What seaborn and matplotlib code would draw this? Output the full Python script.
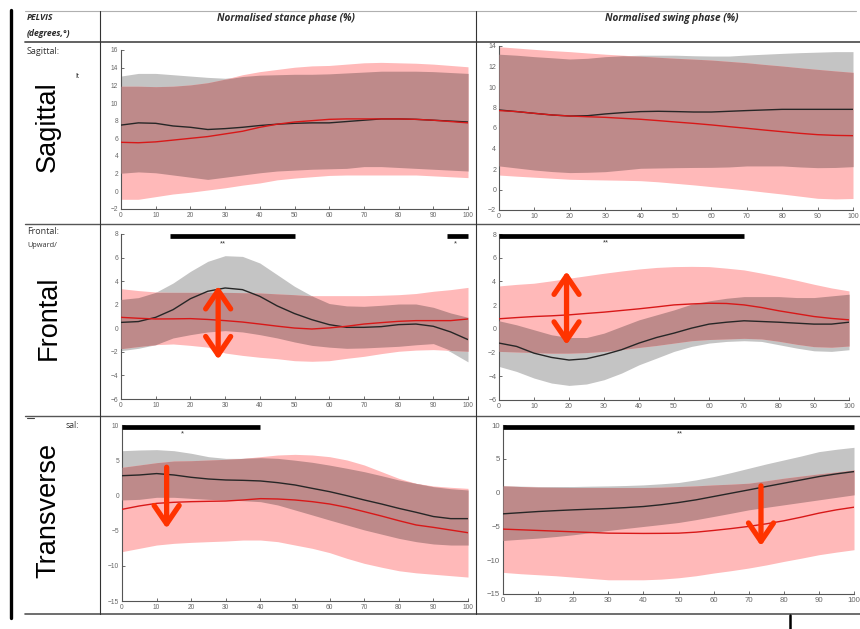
import numpy as np
import pandas as pd
import matplotlib
matplotlib.use("Agg")
import matplotlib.pyplot as plt
from matplotlib.lines import Line2D
import seaborn as sns

# ---------------------------------------------------------------------------
# Pelvis kinematics (degrees) over normalised stance / swing phase (%)
# ctrl = healthy reference group (grey), pat = patient group (red)
# each group: mean curve plus lower / upper limit of the +/-1 SD band
# ---------------------------------------------------------------------------
pct = [0, 5, 10, 15, 20, 25, 30, 35, 40, 45, 50, 55, 60, 65, 70, 75, 80, 85, 90, 95, 100]
x_ticks = [0, 10, 20, 30, 40, 50, 60, 70, 80, 90, 100]

# Sagittal - stance
sag_st_ctrl_mean = [7.5, 7.75, 7.7, 7.4, 7.25, 7.0, 7.1, 7.25, 7.45, 7.6, 7.7, 7.75, 7.75, 7.9, 8.05, 8.2, 8.2, 8.15, 8.05, 7.95, 7.85]
sag_st_ctrl_hi = [13.05, 13.35, 13.35, 13.2, 13.05, 12.9, 12.8, 13.0, 13.15, 13.2, 13.25, 13.25, 13.3, 13.4, 13.5, 13.6, 13.6, 13.6, 13.55, 13.45, 13.35]
sag_st_ctrl_lo = [2.05, 2.2, 2.1, 1.85, 1.6, 1.35, 1.6, 1.85, 2.1, 2.3, 2.4, 2.5, 2.55, 2.6, 2.8, 2.8, 2.7, 2.6, 2.5, 2.4, 2.3]
sag_st_pat_mean = [5.55, 5.5, 5.6, 5.8, 6.0, 6.2, 6.5, 6.8, 7.25, 7.6, 7.85, 8.0, 8.15, 8.2, 8.2, 8.2, 8.2, 8.15, 8.05, 7.9, 7.75]
sag_st_pat_hi = [11.9, 11.9, 11.85, 11.9, 12.05, 12.3, 12.7, 13.2, 13.55, 13.8, 14.05, 14.2, 14.25, 14.4, 14.55, 14.6, 14.55, 14.5, 14.4, 14.25, 14.1]
sag_st_pat_lo = [-0.9, -0.9, -0.6, -0.3, -0.1, 0.15, 0.4, 0.7, 0.95, 1.3, 1.5, 1.65, 1.8, 1.85, 1.85, 1.85, 1.85, 1.85, 1.75, 1.65, 1.55]

# Sagittal - swing
sag_sw_ctrl_mean = [7.76, 7.6, 7.43, 7.27, 7.17, 7.2, 7.37, 7.5, 7.6, 7.63, 7.6, 7.56, 7.56, 7.63, 7.7, 7.76, 7.82, 7.82, 7.82, 7.82, 7.82]
sag_sw_ctrl_hi = [13.2, 13.1, 12.96, 12.85, 12.73, 12.8, 12.96, 13.05, 13.1, 13.1, 13.1, 13.05, 13.02, 13.02, 13.12, 13.2, 13.28, 13.35, 13.4, 13.45, 13.45]
sag_sw_ctrl_lo = [2.3, 2.1, 1.9, 1.75, 1.65, 1.68, 1.74, 1.9, 2.07, 2.1, 2.13, 2.15, 2.16, 2.2, 2.3, 2.3, 2.3, 2.2, 2.13, 2.15, 2.23]
sag_sw_pat_mean = [7.7, 7.6, 7.43, 7.27, 7.17, 7.1, 7.04, 6.94, 6.85, 6.72, 6.58, 6.45, 6.3, 6.13, 5.97, 5.8, 5.64, 5.48, 5.35, 5.28, 5.25]
sag_sw_pat_hi = [13.93, 13.8, 13.67, 13.55, 13.45, 13.32, 13.2, 13.1, 13.0, 12.9, 12.8, 12.72, 12.63, 12.5, 12.37, 12.2, 12.05, 11.88, 11.72, 11.57, 11.43]
sag_sw_pat_lo = [1.41, 1.3, 1.2, 1.1, 1.0, 0.96, 0.93, 0.9, 0.86, 0.75, 0.6, 0.45, 0.28, 0.12, -0.05, -0.25, -0.44, -0.65, -0.86, -0.92, -0.88]

# Frontal - stance
fro_st_ctrl_mean = [0.5, 0.57, 0.93, 1.58, 2.51, 3.14, 3.42, 3.28, 2.71, 1.9, 1.25, 0.73, 0.31, 0.08, 0.08, 0.14, 0.31, 0.36, 0.17, -0.31, -0.96]
fro_st_ctrl_hi = [2.45, 2.6, 3.05, 3.84, 4.83, 5.68, 6.16, 6.1, 5.54, 4.55, 3.56, 2.75, 2.1, 1.9, 1.86, 1.95, 2.06, 2.06, 1.78, 1.3, 0.93]
fro_st_ctrl_lo = [-1.9, -1.7, -1.39, -0.82, -0.54, -0.31, -0.2, -0.31, -0.54, -0.82, -1.16, -1.45, -1.6, -1.7, -1.67, -1.6, -1.53, -1.4, -1.3, -2.0, -2.85]
fro_st_pat_mean = [0.93, 0.85, 0.79, 0.8, 0.82, 0.75, 0.65, 0.53, 0.36, 0.18, 0.02, -0.06, 0.03, 0.17, 0.36, 0.48, 0.59, 0.65, 0.65, 0.65, 0.79]
fro_st_pat_hi = [3.36, 3.2, 3.08, 3.05, 3.05, 3.05, 3.05, 3.02, 3.0, 2.92, 2.85, 2.77, 2.77, 2.77, 2.77, 2.8, 2.85, 2.95, 3.14, 3.28, 3.47]
fro_st_pat_lo = [-1.73, -1.55, -1.39, -1.33, -1.45, -1.6, -2.1, -2.3, -2.46, -2.58, -2.75, -2.8, -2.75, -2.55, -2.38, -2.15, -1.95, -1.85, -1.81, -1.88, -1.95]

# Frontal - swing
fro_sw_ctrl_mean = [-1.2, -1.48, -2.05, -2.41, -2.63, -2.52, -2.18, -1.76, -1.2, -0.73, -0.36, 0.06, 0.4, 0.56, 0.68, 0.62, 0.56, 0.48, 0.4, 0.4, 0.56]
fro_sw_ctrl_hi = [0.68, 0.34, -0.08, -0.5, -0.73, -0.73, -0.36, 0.2, 0.76, 1.18, 1.6, 2.08, 2.36, 2.58, 2.72, 2.72, 2.72, 2.64, 2.64, 2.78, 2.92]
fro_sw_ctrl_lo = [-3.17, -3.59, -4.15, -4.57, -4.77, -4.65, -4.29, -3.73, -3.03, -2.47, -1.9, -1.48, -1.2, -1.06, -1.0, -1.06, -1.34, -1.62, -1.85, -1.9, -1.76]
fro_sw_pat_mean = [0.85, 0.95, 1.04, 1.1, 1.18, 1.3, 1.41, 1.55, 1.69, 1.85, 2.02, 2.1, 2.16, 2.14, 2.02, 1.8, 1.52, 1.28, 1.04, 0.88, 0.76]
fro_sw_pat_hi = [3.62, 3.75, 3.85, 4.05, 4.27, 4.48, 4.69, 4.88, 5.05, 5.18, 5.25, 5.27, 5.25, 5.12, 4.97, 4.7, 4.41, 4.1, 3.76, 3.45, 3.2]
fro_sw_pat_lo = [-1.9, -1.95, -2.0, -2.05, -2.05, -2.0, -1.9, -1.75, -1.57, -1.4, -1.2, -1.0, -0.9, -0.85, -0.8, -0.85, -1.05, -1.3, -1.5, -1.55, -1.45]

# Transverse - stance
tra_st_ctrl_mean = [2.8, 2.9, 3.1, 2.9, 2.57, 2.33, 2.19, 2.14, 2.05, 1.81, 1.48, 1.0, 0.53, -0.04, -0.65, -1.22, -1.84, -2.4, -3.0, -3.3, -3.3]
tra_st_ctrl_hi = [6.35, 6.45, 6.5, 6.35, 5.98, 5.5, 5.26, 5.26, 5.36, 5.26, 5.0, 4.7, 4.3, 3.85, 3.37, 2.8, 2.19, 1.7, 1.24, 0.95, 0.77]
tra_st_ctrl_lo = [-0.65, -0.56, -0.27, -0.27, -0.42, -0.56, -0.65, -0.75, -0.89, -1.36, -2.07, -2.78, -3.5, -4.2, -4.9, -5.5, -6.1, -6.57, -6.9, -7.05, -7.05]
tra_st_pat_mean = [-1.98, -1.5, -1.13, -0.98, -0.89, -0.84, -0.8, -0.65, -0.46, -0.51, -0.65, -0.89, -1.22, -1.7, -2.31, -2.93, -3.59, -4.2, -4.54, -4.92, -5.3]
tra_st_pat_hi = [3.99, 4.32, 4.65, 4.89, 4.93, 5.03, 5.12, 5.26, 5.5, 5.74, 5.83, 5.74, 5.5, 5.03, 4.32, 3.37, 2.42, 1.71, 1.34, 1.15, 1.0]
tra_st_pat_lo = [-7.99, -7.52, -7.05, -6.81, -6.67, -6.57, -6.48, -6.34, -6.34, -6.57, -7.05, -7.52, -8.13, -8.94, -9.65, -10.2, -10.7, -11.0, -11.2, -11.4, -11.6]

# Transverse - swing
tra_sw_ctrl_mean = [-3.14, -2.97, -2.8, -2.67, -2.55, -2.45, -2.35, -2.22, -2.06, -1.8, -1.47, -1.07, -0.58, -0.09, 0.4, 0.9, 1.39, 1.88, 2.37, 2.77, 3.11]
tra_sw_ctrl_hi = [0.99, 0.95, 0.9, 0.9, 0.9, 0.95, 0.99, 1.05, 1.14, 1.3, 1.49, 1.88, 2.37, 2.96, 3.6, 4.24, 4.83, 5.42, 6.06, 6.41, 6.7]
tra_sw_ctrl_lo = [-7.08, -6.9, -6.73, -6.5, -6.24, -5.92, -5.6, -5.3, -5.01, -4.72, -4.42, -4.0, -3.53, -3.05, -2.55, -2.18, -1.81, -1.44, -1.07, -0.7, -0.33]
tra_sw_pat_mean = [-5.4, -5.5, -5.6, -5.7, -5.8, -5.9, -6.0, -6.02, -6.04, -6.03, -6.0, -5.85, -5.6, -5.32, -5.0, -4.62, -4.17, -3.63, -3.04, -2.55, -2.16]
tra_sw_pat_hi = [0.99, 0.9, 0.8, 0.77, 0.75, 0.75, 0.75, 0.75, 0.75, 0.8, 0.9, 1.0, 1.14, 1.25, 1.39, 1.75, 2.13, 2.45, 2.77, 3.05, 3.36]
tra_sw_pat_lo = [-11.8, -12.0, -12.15, -12.3, -12.5, -12.7, -12.9, -12.9, -12.9, -12.8, -12.6, -12.3, -11.9, -11.55, -11.16, -10.7, -10.18, -9.7, -9.19, -8.8, -8.45]

# significance intervals: (start %, end %, label, label position %)
fro_st_sig = [(14, 50, "**", 29.5), (94, 100, "*", 96.5)]
fro_sw_sig = [(0, 70, "**", 30.5)]
tra_st_sig = [(0, 40, "*", 17.5)]
tra_sw_sig = [(0, 100, "**", 50.5)]

# header / row texts
col_titles = ["Normalised stance phase (%)", "Normalised swing phase (%)"]
plane_names = ["Sagittal", "Frontal", "Transverse"]

# ---------------------------------------------------------------------------
sns.set_theme(style="white")
plt.rcParams["font.family"] = ["Liberation Sans", "DejaVu Sans"]

W, H = 860, 629
fig = plt.figure(figsize=(W / 100, H / 100), dpi=100)
fig.patch.set_facecolor("white")

GREY = "#c4c4c4"
PINK = "#ffb9b9"
BOTH = "#be8a8a"
ARROW = "#ff3300"


def fx(px):
    return px / W


def fy(py):
    return 1 - py / H


def panel(px0, px1, py_top, py_bot):
    return fig.add_axes([fx(px0), fy(py_bot), (px1 - px0) / W, (py_bot - py_top) / H])


def draw(ax, cm, clo, chi, pm, plo, phi, ylim, ystep, fs):
    x = np.array(pct, dtype=float)
    clo, chi, plo, phi = map(np.asarray, (clo, chi, plo, phi))
    ax.fill_between(x, clo, chi, color=GREY, lw=0, zorder=1)
    ax.fill_between(x, plo, phi, color=PINK, lw=0, zorder=2)
    lo = np.maximum(clo, plo)
    hi = np.minimum(chi, phi)
    ax.fill_between(x, lo, hi, where=hi > lo, interpolate=True, color=BOTH, lw=0, zorder=3)

    df = pd.DataFrame({"pct": pct, "Control": cm, "Patient": pm}).melt(
        "pct", var_name="group", value_name="deg")
    sns.lineplot(data=df, x="pct", y="deg", hue="group",
                 palette={"Control": "#262626", "Patient": "#d81818"},
                 linewidth=1.0, legend=False, ax=ax, zorder=4)

    ax.set_xlim(0, 100)
    ax.set_ylim(*ylim)
    ax.set_xticks(x_ticks)
    ax.set_yticks(np.arange(ylim[0], ylim[1] + 0.01, ystep))
    ax.set_xlabel("")
    ax.set_ylabel("")
    for s in ("top", "right"):
        ax.spines[s].set_visible(False)
    for s in ("left", "bottom"):
        ax.spines[s].set_color("#555555")
        ax.spines[s].set_linewidth(0.8)
    ax.tick_params(direction="in", length=2.5, width=0.6, color="#555555",
                   labelcolor="#666666", labelsize=fs, pad=2,
                   left=True, bottom=True)
    ax.set_facecolor("white")


def significance(ax, spans, ybar, ystar):
    for a, b, lab, xs in spans:
        ax.plot([a, b], [ybar, ybar], color="black", lw=3.4,
                solid_capstyle="butt", clip_on=False, zorder=6)
        ax.text(xs, ystar, lab, ha="center", va="center", fontsize=5.5,
                color="#333333", zorder=6)


def arrow(ax, xpos, y0, y1, both):
    style = "<->" if both else "->"
    ax.annotate("", xy=(xpos, y1), xytext=(xpos, y0),
                arrowprops=dict(arrowstyle=style + ",head_length=1.1,head_width=0.75",
                                color=ARROW, lw=3.8, shrinkA=0, shrinkB=0,
                                capstyle="round", joinstyle="round"),
                zorder=7)


# Sagittal row
ax1 = panel(121, 468, 50, 209)
draw(ax1, sag_st_ctrl_mean, sag_st_ctrl_lo, sag_st_ctrl_hi,
     sag_st_pat_mean, sag_st_pat_lo, sag_st_pat_hi, (-2, 16), 2, 4.8)
ax2 = panel(499, 853, 46, 210)
draw(ax2, sag_sw_ctrl_mean, sag_sw_ctrl_lo, sag_sw_ctrl_hi,
     sag_sw_pat_mean, sag_sw_pat_lo, sag_sw_pat_hi, (-2, 14), 2, 5.0)

# Frontal row
ax3 = panel(121, 468, 234, 399)
draw(ax3, fro_st_ctrl_mean, fro_st_ctrl_lo, fro_st_ctrl_hi,
     fro_st_pat_mean, fro_st_pat_lo, fro_st_pat_hi, (-6, 8), 2, 4.8)
ax4 = panel(499, 849, 234, 400)
draw(ax4, fro_sw_ctrl_mean, fro_sw_ctrl_lo, fro_sw_ctrl_hi,
     fro_sw_pat_mean, fro_sw_pat_lo, fro_sw_pat_hi, (-6, 8), 2, 5.0)

# Transverse row
ax5 = panel(122, 468, 425, 601)
draw(ax5, tra_st_ctrl_mean, tra_st_ctrl_lo, tra_st_ctrl_hi,
     tra_st_pat_mean, tra_st_pat_lo, tra_st_pat_hi, (-15, 10), 5, 4.8)
ax6 = panel(503, 854, 425, 594)
draw(ax6, tra_sw_ctrl_mean, tra_sw_ctrl_lo, tra_sw_ctrl_hi,
     tra_sw_pat_mean, tra_sw_pat_lo, tra_sw_pat_hi, (-15, 10), 5, 5.6)

# significance bars with star labels underneath
significance(ax3, fro_st_sig, 7.85, 7.2)
significance(ax4, fro_sw_sig, 7.85, 7.25)
significance(ax5, tra_st_sig, 9.75, 8.7)
significance(ax6, tra_sw_sig, 9.75, 8.75)

# highlighted differences
arrow(ax3, 28.0, 3.6, -2.65, True)
arrow(ax4, 19.3, 4.85, -1.35, True)
arrow(ax5, 12.9, 4.0, -4.7, False)
arrow(ax6, 73.5, 1.0, -7.9, False)

# ---------------------------------------------------------------------------
# table frame
def hline(py, x0, x1, color="#555555", lw=1.0):
    fig.add_artist(Line2D([fx(x0), fx(x1)], [fy(py), fy(py)], color=color, lw=lw,
                          transform=fig.transFigure))


def vline(px, y0, y1, color="#333333", lw=0.8):
    fig.add_artist(Line2D([fx(px), fx(px)], [fy(y0), fy(y1)], color=color, lw=lw,
                          transform=fig.transFigure))


hline(11, 25, 856, color="#b0b0b0", lw=0.8)
hline(41.5, 25, 860, color="#555555", lw=1.3)
hline(224, 25, 860)
hline(416, 25, 860)
hline(613.5, 25, 860, lw=1.2)
vline(100, 11, 614)
vline(476.5, 11, 614)
vline(10.5, 10, 618, color="black", lw=2.4)
vline(790, 615, 629, color="black", lw=1.8)
hline(418, 27, 34, color="#444444", lw=0.8)

hdr = dict(fontweight="bold", style="italic", color="#2b2b2b",
           family=["Open Sans", "DejaVu Sans"])
fig.text(fx(27), fy(18), "PELVIS", fontsize=6.2, va="center", ha="left", **hdr)
fig.text(fx(27), fy(33), "(degrees,°)", fontsize=6.2, va="center", ha="left", **hdr)
fig.text(fx(286), fy(19), col_titles[0], fontsize=7.2, va="center", ha="center", **hdr)
fig.text(fx(672), fy(19), col_titles[1], fontsize=7.2, va="center", ha="center", **hdr)

lab = dict(color="#333333", family=["Open Sans", "DejaVu Sans"], va="center", ha="left")
fig.text(fx(27), fy(51), "Sagittal:", fontsize=6.5, **lab)
fig.text(fx(27), fy(232), "Frontal:", fontsize=6.5, **lab)
fig.text(fx(27), fy(246), "Upward/", fontsize=5.3, **lab)
fig.text(fx(66), fy(425), "sal:", fontsize=6.2, **lab)
fig.text(fx(75), fy(77), "lt", fontsize=4.8, **lab)

big = dict(rotation=90, fontsize=19.5, ha="center", va="center", color="black",
           family=["Liberation Sans", "DejaVu Sans"])
fig.text(fx(48), fy(127), plane_names[0], **big)
fig.text(fx(49), fy(318), plane_names[1], **big)
fig.text(fx(48.5), fy(510), plane_names[2], **big)

fig.savefig("out.png", dpi=100, facecolor="white")
